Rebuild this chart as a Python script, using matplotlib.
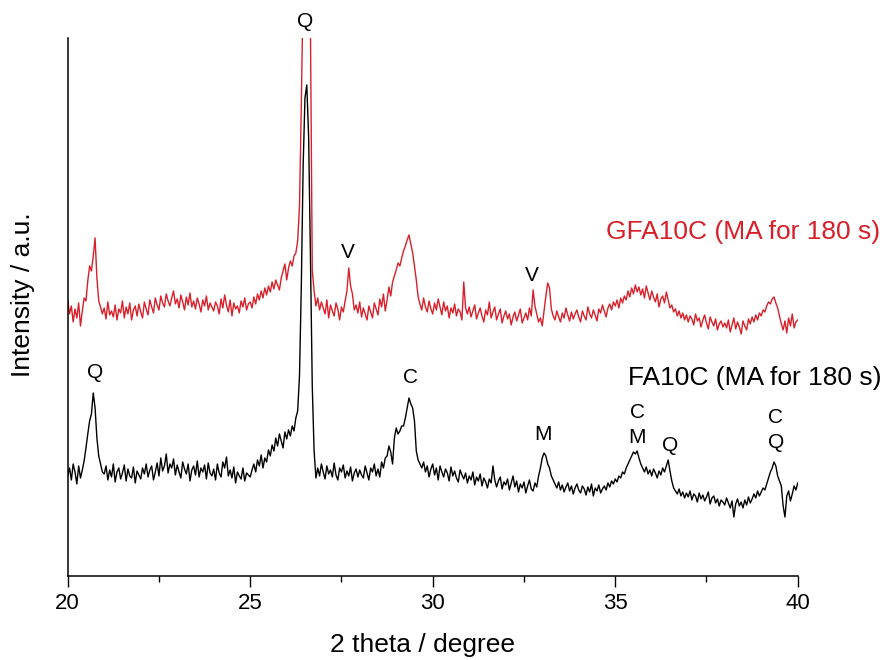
import matplotlib.pyplot as plt
import numpy as np
from matplotlib.ticker import MultipleLocator

plt.rcParams['font.family'] = ['Liberation Sans', 'DejaVu Sans']

# 2 theta grid, 0.05 degree step from 20 to 40
two_theta = np.arange(401) * 0.05 + 20

# FA10C (MA for 180 s), intensity in a.u.
fa10c = [
    100, 108, 96, 112, 104, 92, 110, 98, 106, 115, 128, 142, 155, 162, 183, 168, 138, 120, 112, 104,
    102, 110, 96, 106, 99, 112, 94, 104, 108, 97, 103, 111, 95, 107, 100, 98, 109, 93, 105, 101,
    97, 108, 102, 112, 99, 106, 110, 96, 104, 113, 100, 118, 105, 110, 122, 103, 112, 108, 117, 101,
    111, 104, 98, 114, 107, 102, 112, 95, 106, 110, 101, 115, 99, 108, 104, 111, 97, 113, 103, 100,
    107, 96, 112, 103, 99, 114, 108, 119, 100, 106, 98, 109, 93, 104, 100, 97, 108, 95, 103, 101,
    99, 106, 112, 104, 116, 110, 121, 108, 118, 114, 126, 120, 131, 125, 138, 130, 142, 135, 128, 144,
    137, 146, 140, 150, 145, 158, 165, 200, 290, 410, 478, 491, 440, 320, 190, 125, 98, 108, 100, 112,
    104, 97, 110, 102, 106, 99, 113, 101, 96, 108, 104, 111, 98, 105, 100, 109, 95, 103, 107, 99,
    106, 101, 98, 110, 103, 96, 108, 104, 112, 100, 107, 99, 114, 108, 118, 120, 130, 124, 112, 138,
    148, 142, 145, 150, 150, 158, 168, 178, 172, 168, 155, 125, 116, 112, 108, 114, 104, 110, 99, 107,
    112, 101, 108, 96, 110, 104, 99, 107, 103, 95, 109, 100, 105, 98, 94, 106, 101, 97, 103, 93,
    100, 96, 104, 91, 99, 95, 102, 90, 98, 94, 88, 97, 93, 110, 96, 89, 95, 99, 87, 94,
    91, 97, 86, 93, 100, 89, 95, 84, 92, 88, 94, 83, 90, 96, 87, 85, 93, 89, 100, 108,
    118, 123, 120, 112, 108, 100, 96, 92, 88, 94, 86, 91, 84, 89, 93, 85, 90, 82, 88, 92,
    86, 83, 90, 87, 81, 89, 84, 92, 80, 88, 85, 91, 83, 87, 90, 86, 93, 89, 95, 92,
    97, 94, 100, 98, 104, 102, 108, 112, 116, 120, 124, 122, 125, 118, 112, 108, 104, 109, 102, 106,
    100, 107, 103, 98, 105, 101, 108, 104, 110, 116, 105, 95, 88, 85, 82, 87, 80, 84, 78, 83,
    79, 85, 76, 82, 80, 74, 83, 77, 81, 75, 79, 84, 72, 78, 80, 73, 77, 70, 76, 74,
    71, 78, 73, 68, 75, 59, 72, 77, 70, 74, 68, 76, 71, 79, 73, 77, 82, 78, 85, 80,
    84, 88, 86, 92, 98, 104, 108, 114, 110, 100, 95, 90, 70, 59, 80, 85, 75, 82, 90, 86,
    93,
]

# GFA10C (MA for 180 s), intensity in a.u. (before stacking offset)
gfa10c = [
    106, 92, 100, 84, 97, 88, 103, 80, 95, 108, 105, 125, 140, 135, 150, 168, 128, 105, 99, 92,
    98, 87, 104, 91, 95, 89, 101, 86, 97, 93, 105, 88, 99, 92, 103, 86, 96, 100, 90, 102,
    94, 88, 104, 97, 91, 106, 99, 93, 108, 101, 96, 110, 103, 99, 112, 105, 100, 108, 115, 102,
    107, 98, 111, 104, 96, 109, 101, 113, 99, 105, 97, 108, 102, 94, 106, 100, 110, 96, 103, 99,
    95, 104, 100, 92, 107, 98, 111, 101, 94, 106, 90, 103, 97, 100, 93, 105, 99, 108, 96, 102,
    104, 98, 109, 102, 112, 106, 115, 108, 118, 111, 120, 114, 124, 117, 126, 121, 116, 128, 135, 142,
    126, 138, 145, 140, 150, 153, 165, 200, 300, 420, 540, 560, 520, 380, 136, 115, 100, 108, 96, 104,
    98, 92, 106, 88, 101, 95, 90, 103, 97, 86, 99, 94, 105, 115, 138, 120, 112, 96, 101, 93,
    104, 89, 98, 92, 86, 100, 94, 88, 103, 97, 91, 107, 99, 112, 95, 106, 119, 110, 124, 130,
    136, 143, 140, 148, 155, 160, 166, 171, 162, 153, 140, 126, 109, 102, 96, 108, 99, 94, 105, 97,
    92, 103, 96, 107, 99, 91, 104, 95, 100, 88, 98, 93, 102, 90, 97, 94, 86, 124, 98, 92,
    99, 89, 95, 101, 87, 93, 98, 90, 84, 96, 91, 104, 88, 94, 99, 86, 92, 97, 83, 90,
    95, 87, 92, 81, 89, 94, 85, 91, 97, 83, 88, 93, 86, 98, 90, 116, 100, 92, 84, 88,
    80, 95, 110, 123, 118, 97, 90, 86, 95, 89, 84, 93, 88, 98, 91, 85, 94, 87, 92, 96,
    89, 84, 95, 90, 86, 99, 92, 88, 96, 91, 85, 97, 93, 101, 95, 89, 98, 102, 96, 104,
    100, 106, 98, 108, 103, 110, 106, 115, 109, 118, 112, 121, 114, 119, 111, 117, 108, 120, 113, 106,
    115, 109, 104, 112, 99, 107, 110, 103, 114, 106, 98, 101, 94, 97, 90, 95, 88, 93, 86, 91,
    84, 90, 87, 81, 92, 85, 88, 79, 86, 91, 83, 77, 89, 84, 80, 87, 76, 82, 85, 79,
    83, 78, 86, 74, 81, 88, 77, 84, 79, 72, 85, 80, 76, 87, 82, 89, 84, 91, 86, 93,
    90, 96, 94, 100, 104, 102, 107, 109, 103, 98, 90, 82, 76, 85, 73, 88, 80, 92, 78, 84,
    86,
]
gfa_offset = 170

# phase labels: (text, 2theta, height)
fa_labels = [("Q", 20.75, 203), ("C", 29.38, 198), ("M", 33.02, 141),
             ("C", 35.60, 163), ("M", 35.60, 138), ("Q", 36.50, 130),
             ("C", 39.40, 158), ("Q", 39.40, 133), ("Q", 26.50, 554)]
gfa_labels = [("V", 27.68, 323), ("V", 32.72, 300)]

red = '#d8202a'

fig = plt.figure(figsize=(8.85, 6.6), dpi=100)
ax = fig.add_axes([0.0765, 0.1273, 0.8249, 0.8152])

ax.plot(two_theta, fa10c, color='black', lw=1.0)
ax.plot(two_theta, np.array(gfa10c) + gfa_offset, color=red, lw=1.0)

for txt, x, y in fa_labels + gfa_labels:
    ax.text(x, y, txt, ha='center', va='center', fontsize=15)

ax.set_xlim(20, 40)
ax.set_ylim(0, 538)
ax.set_yticks([])
ax.xaxis.set_major_locator(MultipleLocator(5))
ax.xaxis.set_minor_locator(MultipleLocator(2.5))
ax.tick_params(axis='x', which='major', length=8, width=1.0, labelsize=16, pad=4)
ax.tick_params(axis='x', which='minor', length=4.3, width=1.0)
for s in ['top', 'right']:
    ax.spines[s].set_visible(False)
for s in ['left', 'bottom']:
    ax.spines[s].set_linewidth(1.1)

fig.text(880 / 885, 1 - 232 / 660, "GFA10C (MA for 180 s)", color=red,
         ha='right', va='center', fontsize=19)
fig.text(882 / 885, 1 - 378 / 660, "FA10C (MA for 180 s)", color='black',
         ha='right', va='center', fontsize=19)

ax.set_ylabel("Intensity / a.u.", fontsize=19)
ax.yaxis.set_label_coords(-0.045, 0.522)
fig.text(422 / 885, 1 - 633 / 660, "2 theta / degree", ha='center', va='top', fontsize=19)

fig.savefig('out.png', dpi=100)
